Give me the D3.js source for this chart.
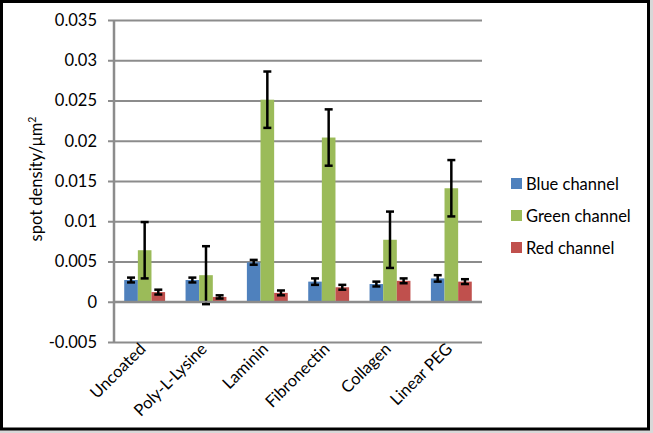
<!DOCTYPE html>
<html>
<head>
<meta charset="utf-8">
<script src="https://cdn.jsdelivr.net/npm/d3@7"></script>
<style>
  html, body { margin: 0; padding: 0; background: #fff; }
  svg { display: block; font-family: Lato, "Open Sans", sans-serif; }
</style>
</head>
<body>
<svg id="chart"></svg>
<script>
'use strict';

const categories = ['Uncoated', 'Poly-L-Lysine', 'Laminin', 'Fibronectin', 'Collagen', 'Linear PEG'];
const seriesNames = ['Blue channel', 'Green channel', 'Red channel'];
const blueValues = [0.0027, 0.0027, 0.0049, 0.0025, 0.0022, 0.0029];
const blueErrors = [0.0003, 0.0003, 0.0003, 0.0004, 0.0003, 0.0004];
const greenValues = [0.0064, 0.0033, 0.0251, 0.0204, 0.0077, 0.0141];
const greenErrors = [0.0035, 0.0036, 0.0035, 0.0035, 0.0035, 0.0035];
const redValues = [0.0012, 0.0006, 0.0011, 0.0018, 0.0026, 0.0025];
const redErrors = [0.0003, 0.0002, 0.0003, 0.0003, 0.0003, 0.0003];
const yTicks = [-0.005, 0, 0.005, 0.01, 0.015, 0.02, 0.025, 0.03, 0.035];

(function() {
    const d3 = window.d3;
    const W = 653, H = 433;
    const margin = {top: 20, right: 171, bottom: 91, left: 114};
    const width = W - margin.left - margin.right;
    const height = H - margin.top - margin.bottom;
    const colors = ['#4f81bd', '#9bbb59', '#c0504d'];
    const gridColor = '#8c8c8c';
    const fontSize = 16.5;

    const series = [
        {name: seriesNames[0], values: blueValues, errors: blueErrors},
        {name: seriesNames[1], values: greenValues, errors: greenErrors},
        {name: seriesNames[2], values: redValues, errors: redErrors}
    ];

    const svg = d3.select('#chart').attr('width', W).attr('height', H);

    // outer frame
    svg.append('rect')
        .attr('x', 649).attr('y', 0).attr('width', 4).attr('height', H)
        .attr('fill', '#d8d8d8');
    svg.append('rect')
        .attr('x', 0).attr('y', 430).attr('width', W).attr('height', 3)
        .attr('fill', '#d8d8d8');
    svg.append('rect')
        .attr('x', 1.5).attr('y', 1.5).attr('width', 647).attr('height', 427.5)
        .attr('fill', '#fff').attr('stroke', '#000').attr('stroke-width', 3);

    const scaleX = d3.scaleBand()
        .domain(categories)
        .range([0, width])
        .paddingInner(0)
        .paddingOuter(0);

    const groupW = scaleX.bandwidth() * 3 / 4.5;
    const scaleSub = d3.scaleBand()
        .domain(d3.range(series.length))
        .range([0, groupW]);

    const scaleY = d3.scaleLinear()
        .domain([-0.005, 0.035])
        .range([height, 0]);

    const g = svg.append('g')
        .attr('transform', 'translate(' + margin.left + ',' + margin.top + ')');

    // grid + y axis
    g.append('g')
        .call(d3.axisLeft(scaleY)
            .tickValues(yTicks)
            .tickFormat(d => String(+d.toFixed(3)))
            .tickSize(-width)
            .tickPadding(17))
        .call(ax => ax.select('.domain').remove())
        .call(ax => ax.selectAll('.tick line')
            .attr('x1', -6)
            .attr('stroke', gridColor)
            .attr('stroke-width', 2))
        .call(ax => ax.selectAll('.tick text')
            .attr('fill', '#000')
            .attr('font-size', fontSize)
            .attr('font-family', 'Lato, sans-serif'));

    g.append('line')
        .attr('x1', 0).attr('x2', 0)
        .attr('y1', 0).attr('y2', height)
        .attr('stroke', gridColor).attr('stroke-width', 2.5);

    // bars
    const group = g.selectAll('.grp')
        .data(categories)
        .enter()
        .append('g')
        .attr('class', 'grp')
        .attr('transform', d => 'translate(' + (scaleX(d) + (scaleX.bandwidth() - groupW) / 2) + ',0)');

    series.forEach((s, si) => {
        group.append('rect')
            .attr('x', scaleSub(si))
            .attr('width', scaleSub.bandwidth())
            .attr('y', (d, i) => scaleY(s.values[i]))
            .attr('height', (d, i) => scaleY(0) - scaleY(s.values[i]))
            .attr('fill', colors[si]);
    });

    // zero line over bars
    g.append('line')
        .attr('x1', 0).attr('x2', width)
        .attr('y1', scaleY(0)).attr('y2', scaleY(0))
        .attr('stroke', gridColor).attr('stroke-width', 2);

    // error bars
    series.forEach((s, si) => {
        const cx = scaleSub(si) + scaleSub.bandwidth() / 2;
        const eb = group.append('g').attr('class', 'err');
        eb.append('line')
            .attr('x1', cx).attr('x2', cx)
            .attr('y1', (d, i) => scaleY(s.values[i] + s.errors[i]))
            .attr('y2', (d, i) => scaleY(s.values[i] - s.errors[i]))
            .attr('stroke', '#000').attr('stroke-width', 2.5);
        [1, -1].forEach(sign => {
            eb.append('line')
                .attr('x1', cx - 4).attr('x2', cx + 4)
                .attr('y1', (d, i) => scaleY(s.values[i] + sign * s.errors[i]))
                .attr('y2', (d, i) => scaleY(s.values[i] + sign * s.errors[i]))
                .attr('stroke', '#000').attr('stroke-width', 2.5);
        });
    });

    // x labels
    g.selectAll('.xlab')
        .data(categories)
        .enter()
        .append('text')
        .attr('class', 'xlab')
        .attr('text-anchor', 'end')
        .attr('font-size', fontSize)
        .attr('transform', d => 'translate(' + (scaleX(d) + scaleX.bandwidth() / 2 + 2) + ',' + (height + 8) + ') rotate(-45)')
        .text(d => d);

    // y title
    const yt = svg.append('text')
        .attr('text-anchor', 'middle')
        .attr('font-size', fontSize)
        .attr('transform', 'translate(' + 42 + ',' + 179 + ') rotate(-90)');
    yt.append('tspan').text('spot density/\u03bcm');
    yt.append('tspan').attr('font-size', 10.5).attr('dy', -6).text('2');

    // legend
    const legend = svg.append('g')
        .attr('transform', 'translate(511,178)');
    const item = legend.selectAll('.leg')
        .data(seriesNames)
        .enter()
        .append('g')
        .attr('class', 'leg')
        .attr('transform', (d, i) => 'translate(0,' + i * 32 + ')');
    item.append('rect')
        .attr('width', 11).attr('height', 11)
        .attr('fill', (d, i) => colors[i]);
    item.append('text')
        .attr('x', 15).attr('y', 11.5)
        .attr('font-size', fontSize)
        .text(d => d);
}());
</script>
</body>
</html>
